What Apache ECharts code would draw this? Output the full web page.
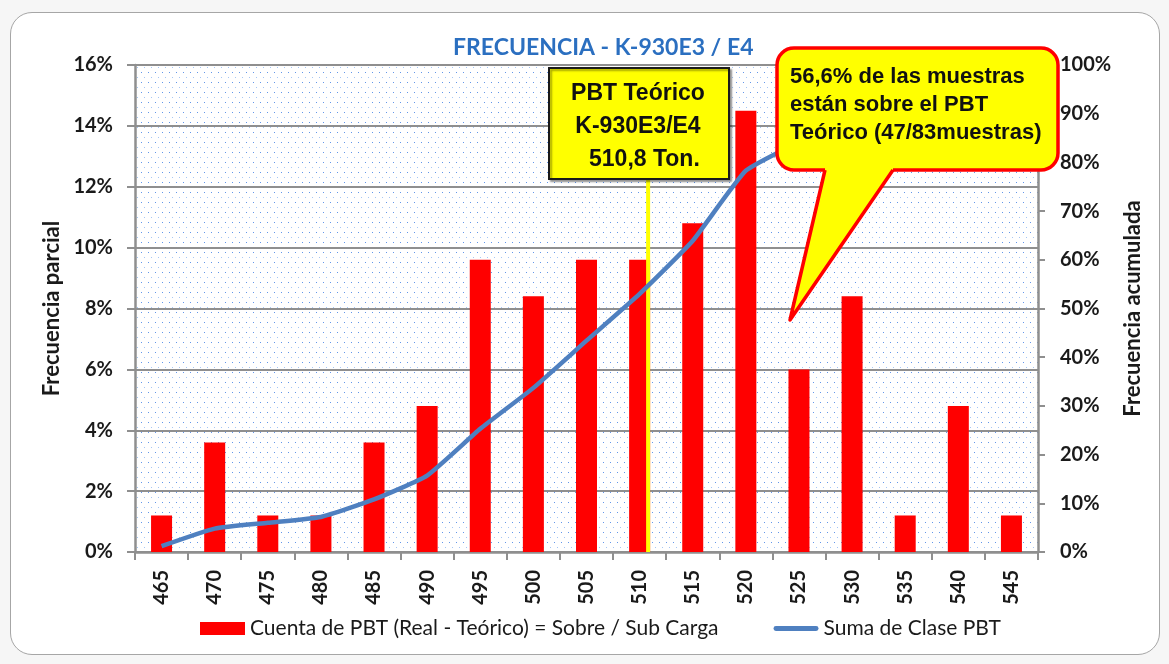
<!DOCTYPE html>
<html>
<head>
<meta charset="utf-8">
<script src="https://cdn.jsdelivr.net/npm/echarts@6/dist/echarts.min.js"></script>
<style>
  html, body { margin: 0; padding: 0; background: #f6f6f6; }
  #frame {
    position: absolute; left: 10px; top: 12px; width: 1148px; height: 641px;
    background: #fff; border: 1.5px solid #a6a6a6; border-radius: 22px;
  }
  #chart { position: absolute; left: 0; top: 0; width: 1169px; height: 664px; }
</style>
</head>
<body>
<div id="frame"></div>
<div id="chart"></div>
<script>
// clases de PBT (ton)
var clases = ['465', '470', '475', '480', '485', '490', '495', '500', '505', '510', '515', '520', '525', '530', '535', '540', '545'];
// frecuencia parcial (%)
var parcial = [1.2, 3.6, 1.2, 1.2, 3.6, 4.8, 9.6, 8.4, 9.6, 9.6, 10.8, 14.5, 6.0, 8.4, 1.2, 4.8, 1.2];
// frecuencia acumulada (%)
var acumulada = [1.2, 4.8, 6.0, 7.2, 10.8, 15.7, 25.3, 33.7, 43.4, 53.0, 63.9, 78.3, 84.3, 92.8, 94.0, 98.8, 100];
var pbtTeorico = 510.8;
var leftTicks = [0, 16, 2];
var rightTicks = [0, 100, 10];

var chart = echarts.init(document.getElementById('chart'));

// fondo punteado del area de grafico
var dots = document.createElement('canvas');
dots.width = 7;
dots.height = 10;
var ctx = dots.getContext('2d');
ctx.fillStyle = '#fff';
ctx.fillRect(0, 0, 7, 10);
ctx.fillStyle = 'rgba(45,115,225,0.75)';
ctx.fillRect(1, 2, 1, 1);
ctx.fillStyle = 'rgba(90,150,235,0.55)';
ctx.fillRect(4, 7, 1, 1);

var font = 'Lato, "Open Sans", sans-serif';
var gray = '#8f8f8f';
var blue = '#4f80c0';

var option = {
  animation: false,
  title: {
    text: 'FRECUENCIA - K-930E3 / E4',
    left: 448,
    top: 31,
    textStyle: { color: '#2b6fc0', fontFamily: font, fontWeight: 'bold', fontSize: 23 }
  },
  legend: {
    left: 195,
    top: 613,
    itemWidth: 45,
    itemHeight: 13,
    itemGap: 55,
    data: [
      { name: 'Cuenta de PBT (Real - Teórico) = Sobre / Sub Carga', icon: 'rect' },
      { name: 'Suma de Clase PBT', icon: 'path://M2.5,0 L44.5,0 Q47,0 47,2.5 Q47,5 44.5,5 L2.5,5 Q0,5 0,2.5 Q0,0 2.5,0 Z', itemStyle: { color: blue } }
    ],
    textStyle: { fontFamily: font, fontSize: 21, color: '#1a1a1a' }
  },
  grid: {
    left: 135,
    right: 131,
    top: 65,
    bottom: 112,
    show: true,
    borderWidth: 0,
    backgroundColor: { image: dots, repeat: 'repeat' }
  },
  xAxis: [
    {
      type: 'category',
      data: clases,
      axisLine: { lineStyle: { color: gray, width: 2.5 } },
      axisTick: { show: true, length: 8, lineStyle: { color: gray, width: 2 } },
      axisLabel: { rotate: 90, margin: 18, fontFamily: font, fontWeight: 'bold', fontSize: 20, color: '#1a1a1a' }
    },
    {
      type: 'value',
      min: 462.5,
      max: 547.5,
      show: false
    }
  ],
  yAxis: [
    {
      type: 'value',
      min: leftTicks[0],
      max: leftTicks[1],
      interval: leftTicks[2],
      name: 'Frecuencia parcial',
      nameLocation: 'middle',
      nameGap: 70,
      nameTextStyle: { fontFamily: font, fontWeight: 'bold', fontSize: 22, color: '#1a1a1a' },
      axisLine: { show: true, lineStyle: { color: gray, width: 2.5 } },
      axisTick: { show: true, length: 8, lineStyle: { color: gray, width: 2 } },
      splitLine: { lineStyle: { color: gray, width: 2 } },
      axisLabel: { formatter: '{value}%', margin: 22, fontFamily: font, fontWeight: 'bold', fontSize: 20, color: '#1a1a1a' }
    },
    {
      type: 'value',
      min: rightTicks[0],
      max: rightTicks[1],
      interval: rightTicks[2],
      name: 'Frecuencia acumulada',
      nameLocation: 'middle',
      nameGap: 82,
      nameRotate: 90,
      nameTextStyle: { fontFamily: font, fontWeight: 'bold', fontSize: 22, color: '#1a1a1a' },
      axisLine: { show: true, lineStyle: { color: gray, width: 2.5 } },
      axisTick: { show: true, length: 7, lineStyle: { color: gray, width: 2 } },
      splitLine: { show: false },
      axisLabel: { formatter: '{value}%', margin: 22, fontFamily: font, fontWeight: 'bold', fontSize: 20, color: '#1a1a1a' }
    }
  ],
  series: [
    {
      name: 'Cuenta de PBT (Real - Teórico) = Sobre / Sub Carga',
      type: 'bar',
      data: parcial,
      barWidth: 21,
      itemStyle: { color: '#ff0000' },
      z: 2
    },
    {
      name: 'PBT',
      type: 'line',
      xAxisIndex: 1,
      yAxisIndex: 0,
      data: [[pbtTeorico, 0], [pbtTeorico, 15.5]],
      symbol: 'none',
      lineStyle: { color: '#ffff00', width: 4 },
      z: 3
    },
    {
      name: 'Suma de Clase PBT',
      type: 'line',
      yAxisIndex: 1,
      data: acumulada,
      symbol: 'none',
      smooth: 0.15,
      itemStyle: { color: blue },
      lineStyle: { color: blue, width: 4.5 },
      z: 4
    }
  ],
  graphic: [
    {
      type: 'rect',
      z: 100,
      shape: { x: 549, y: 68, width: 180, height: 111 },
      style: { fill: '#ffff00', stroke: '#1a1a1a', lineWidth: 2, shadowColor: 'rgba(0,0,0,0.35)', shadowOffsetX: 2, shadowOffsetY: 2, shadowBlur: 2 }
    },
    {
      type: 'text',
      z: 101,
      x: 638,
      y: 77,
      style: {
        text: 'PBT Teórico\nK-930E3/E4\n  510,8 Ton.',
        align: 'center',
        lineHeight: 33,
        fill: '#111',
        font: 'bold 23px "Liberation Sans", Arial, sans-serif'
      }
    },
    {
      type: 'rect',
      z: 100,
      shape: { x: 777, y: 48, width: 281, height: 122, r: 17 },
      style: { fill: '#ffff00', stroke: '#ff0000', lineWidth: 3.5 }
    },
    {
      type: 'polygon',
      z: 101,
      shape: { points: [[825, 165], [825, 170], [790, 320], [893, 170], [893, 165]] },
      style: { fill: '#ffff00' }
    },
    {
      type: 'polyline',
      z: 102,
      shape: { points: [[825, 170], [790, 320], [893, 170]] },
      style: { stroke: '#ff0000', lineWidth: 3.5, lineJoin: 'round', fill: null }
    },
    {
      type: 'text',
      z: 103,
      x: 790,
      y: 63,
      style: {
        text: '56,6% de las muestras\nestán sobre el PBT\nTeórico (47/83muestras)',
        align: 'left',
        lineHeight: 28,
        fill: '#111',
        font: 'bold 22px "Liberation Sans", Arial, sans-serif'
      }
    }
  ]
};

chart.setOption(option);
</script>
</body>
</html>
